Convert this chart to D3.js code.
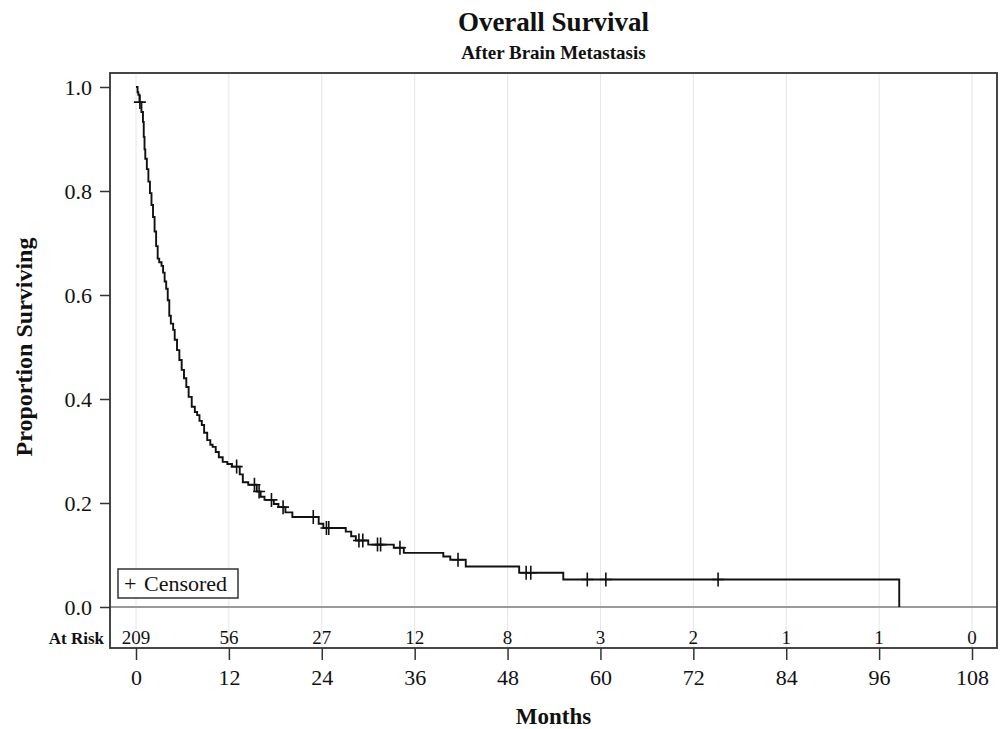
<!DOCTYPE html>
<html>
<head>
<meta charset="utf-8">
<style>
  body { margin: 0; background: #fff; }
  svg text { font-family: "Liberation Serif", "DejaVu Serif", serif; fill: #111; }
</style>
</head>
<body>
<div id="kmChart"></div>
<script src="https://d3js.org/d3.v7.min.js"></script>
<script>
  // Kaplan-Meier steps: time of drop (months) and survival after it
  const stepTimes = [0, 0.2, 0.3, 0.45, 0.7, 0.9, 1.0, 1.1, 1.2, 1.4, 1.6, 1.8, 2.0, 2.2, 2.4, 2.6, 2.8,
    3.0, 3.3, 3.5, 3.7, 3.9, 4.1, 4.3, 4.5, 4.8, 5.0, 5.3, 5.6, 5.9, 6.2, 6.5, 6.8, 7.2, 7.6, 7.9,
    8.2, 8.5, 8.8, 9.2, 9.6, 9.9, 10.3, 10.7, 11.2, 11.8, 12.4, 13.4, 13.8, 14.5, 15.6, 16.1, 16.6,
    17.8, 18.4, 19.3, 20.2, 23.6, 24.2, 27.1, 27.8, 28.4, 30.0, 33.3, 34.6, 39.7, 40.6, 42.6, 49.5,
    55.2, 98.6];
  const stepSurv = [1.0, 0.990, 0.985, 0.971, 0.952, 0.933, 0.904, 0.880, 0.862, 0.842, 0.818, 0.796,
    0.773, 0.750, 0.722, 0.694, 0.670, 0.663, 0.656, 0.643, 0.626, 0.612, 0.590, 0.560, 0.545, 0.533,
    0.514, 0.494, 0.475, 0.456, 0.440, 0.423, 0.404, 0.385, 0.375, 0.369, 0.358, 0.350, 0.335, 0.321,
    0.312, 0.308, 0.298, 0.288, 0.279, 0.275, 0.270, 0.255, 0.240, 0.235, 0.222, 0.212, 0.206, 0.198,
    0.192, 0.182, 0.173, 0.160, 0.152, 0.145, 0.136, 0.128, 0.120, 0.114, 0.104, 0.097, 0.091, 0.078,
    0.066, 0.053, 0];

  // censored observations (months)
  const censorTimes = [0.5, 13.0, 15.3, 15.9, 17.5, 19.0, 22.9, 24.6, 24.9, 28.8, 29.3, 31.2, 31.6,
    34.1, 41.6, 50.4, 51.0, 58.3, 60.7, 75.2];

  const xTicks = [0, 12, 24, 36, 48, 60, 72, 84, 96, 108];
  const atRisk = [209, 56, 27, 12, 8, 3, 2, 1, 1, 0];
  const yTicks = [0, 0.2, 0.4, 0.6, 0.8, 1.0];

  const W = 1000, H = 729;
  const frame = { left: 110, top: 73, right: 997, bottom: 648 };

  const svg = d3.select("#kmChart").append("svg")
    .attr("width", W)
    .attr("height", H);

  const x = d3.scaleLinear().domain([0, 108]).range([136, 972]);
  const y = d3.scaleLinear().domain([0, 1]).range([607, 87]);

  // vertical grid
  svg.append("g").selectAll("line")
    .data(xTicks)
    .join("line")
    .attr("x1", d => x(d)).attr("x2", d => x(d))
    .attr("y1", frame.top).attr("y2", frame.bottom)
    .attr("stroke", "#e6e6e6")
    .attr("stroke-width", 1);

  // reference line at 0
  svg.append("line")
    .attr("x1", frame.left).attr("x2", frame.right)
    .attr("y1", y(0)).attr("y2", y(0))
    .attr("stroke", "#9a9a9a")
    .attr("stroke-width", 2);

  // axes
  const yAxis = svg.append("g")
    .attr("transform", `translate(${frame.left},0)`)
    .call(d3.axisLeft(y).tickValues(yTicks).tickFormat(d3.format(".1f")).tickSize(10).tickPadding(8));
  yAxis.select(".domain").remove();
  yAxis.selectAll("line").attr("stroke", "#333").attr("stroke-width", 1.5);
  yAxis.selectAll("text").style("font-size", "22px").attr("fill", "#111");

  const xAxis = svg.append("g")
    .attr("transform", `translate(0,${frame.bottom})`)
    .call(d3.axisBottom(x).tickValues(xTicks).tickSize(12).tickPadding(9));
  xAxis.select(".domain").remove();
  xAxis.selectAll("line").attr("stroke", "#333").attr("stroke-width", 1.5);
  xAxis.selectAll("text").style("font-size", "22px").attr("fill", "#111");

  // survival curve
  const pts = stepTimes.map((t, i) => ({ t: t, s: stepSurv[i] }));
  svg.append("path")
    .datum(pts)
    .attr("fill", "none")
    .attr("stroke", "#111")
    .attr("stroke-width", 1.9)
    .attr("d", d3.line().curve(d3.curveStepAfter).x(d => x(d.t)).y(d => y(d.s)));

  // censor marks sit on the curve
  const bis = d3.bisector(d => d.t).right;
  const survAt = t => pts[Math.max(0, bis(pts, t) - 1)].s;
  svg.append("g").selectAll("path")
    .data(censorTimes)
    .join("path")
    .attr("fill", "none")
    .attr("stroke", "#111")
    .attr("stroke-width", 1.6)
    .attr("d", d => {
      const cx = x(d), cy = y(survAt(d));
      return `M${cx - 6},${cy}h12M${cx},${cy - 7}v14`;
    });

  // at risk row
  svg.append("text")
    .attr("x", 104).attr("y", 644)
    .attr("text-anchor", "end")
    .style("font-size", "17px").style("font-weight", "bold")
    .text("At Risk");
  svg.append("g").selectAll("text")
    .data(atRisk)
    .join("text")
    .attr("x", (d, i) => x(xTicks[i]))
    .attr("y", 644)
    .attr("text-anchor", "middle")
    .style("font-size", "19px")
    .text(d => d);

  // legend
  svg.append("rect")
    .attr("x", 118).attr("y", 569).attr("width", 120).attr("height", 29)
    .attr("fill", "#fff").attr("stroke", "#333").attr("stroke-width", 1.5);
  const leg = svg.append("text")
    .attr("y", 591)
    .style("font-size", "22px");
  leg.append("tspan").attr("x", 124).text("+");
  leg.append("tspan").attr("x", 144).text("Censored");

  // frame
  svg.append("rect")
    .attr("x", frame.left).attr("y", frame.top)
    .attr("width", frame.right - frame.left).attr("height", frame.bottom - frame.top)
    .attr("fill", "none").attr("stroke", "#333").attr("stroke-width", 1.8);

  // titles
  const cx = (frame.left + frame.right) / 2;
  svg.append("text")
    .attr("x", cx).attr("y", 31)
    .attr("text-anchor", "middle")
    .style("font-size", "27px").style("font-weight", "bold")
    .text("Overall Survival");
  svg.append("text")
    .attr("x", cx).attr("y", 59)
    .attr("text-anchor", "middle")
    .style("font-size", "19px").style("font-weight", "bold")
    .text("After Brain Metastasis");
  svg.append("text")
    .attr("x", cx).attr("y", 724)
    .attr("text-anchor", "middle")
    .style("font-size", "23px").style("font-weight", "bold")
    .text("Months");
  svg.append("text")
    .attr("transform", `translate(32,${y(0.5)}) rotate(-90)`)
    .attr("text-anchor", "middle")
    .style("font-size", "24px").style("font-weight", "bold")
    .text("Proportion Surviving");
</script>
</body>
</html>
